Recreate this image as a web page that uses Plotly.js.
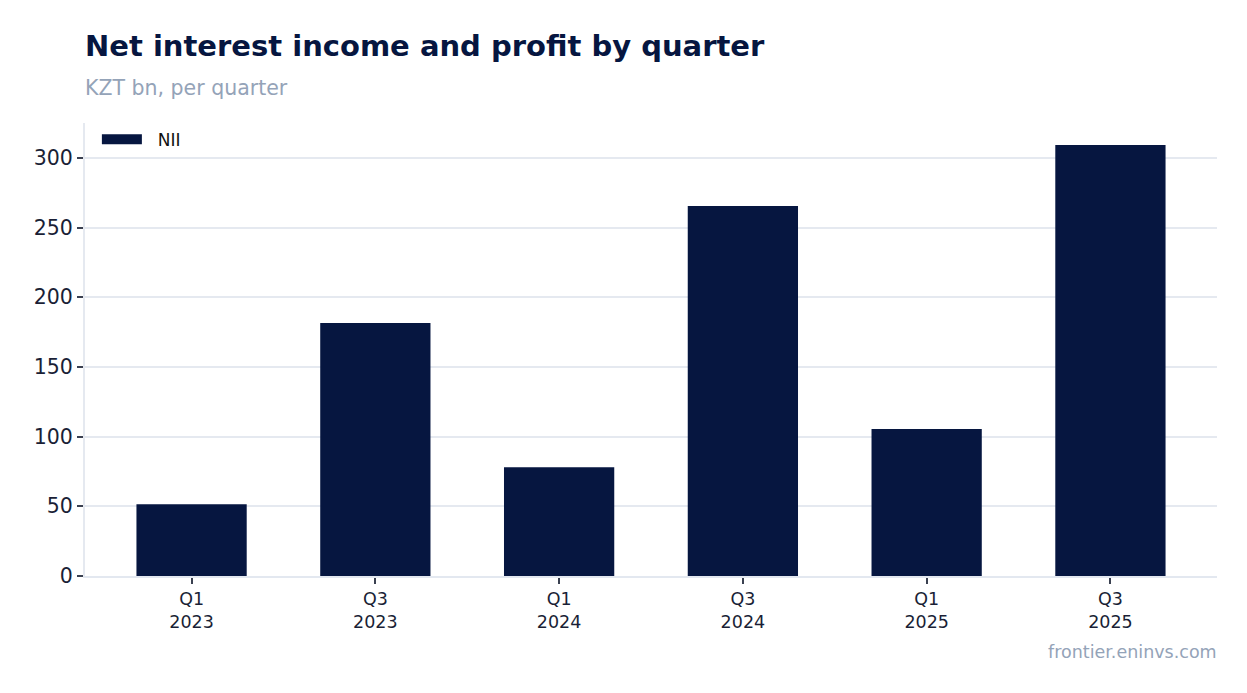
<!DOCTYPE html>
<html>
<head>
<meta charset="utf-8">
<script src="https://cdn.plot.ly/plotly-3.0.1.min.js"></script>
<style>
  html, body { margin: 0; padding: 0; background: #fff; }
  #chart { width: 1247px; height: 693px; }
</style>
</head>
<body>
<div id="chart"></div>
<script>
// quarters shown on the x axis
const quarters = ["Q1<br>2023", "Q3<br>2023", "Q1<br>2024", "Q3<br>2024", "Q1<br>2025", "Q3<br>2025"];
// net interest income, KZT bn
const nii = [51.5, 181.5, 78, 265.5, 105.5, 309.3];

const NAVY = "#061640";
const FONT = "DejaVu Sans, sans-serif";

const data = [
    {
        type: "bar",
        name: "NII",
        x: quarters,
        y: nii,
        width: 0.6,
        marker: { color: NAVY, line: { width: 0 } },
        showlegend: false,
        legendgroup: "nii"
    },
    // legend entry only: wide swatch like the reference
    {
        type: "scatter",
        mode: "lines",
        name: "\u00a0\u00a0NII",
        x: [null],
        y: [null],
        line: { color: NAVY, width: 13 },
        showlegend: true,
        legendgroup: "nii",
        hoverinfo: "skip"
    }
];

const layout = {
    width: 1247,
    height: 693,
    margin: { l: 85, r: 30, t: 123, b: 117 },
    paper_bgcolor: "#ffffff",
    plot_bgcolor: "#ffffff",
    font: { family: FONT, color: "#1a1f36" },
    xaxis: {
        type: "category",
        range: [-0.58, 5.58],
        showgrid: false,
        showline: true,
        linecolor: "#e3e8f0",
        linewidth: 2,
        ticks: "outside",
        ticklen: 6,
        tickwidth: 2,
        tickcolor: "#3a4050",
        tickfont: { size: 17.5, color: "#1a1f36" },
        zeroline: false
    },
    yaxis: {
        range: [0, 325],
        tickvals: [0, 50, 100, 150, 200, 250, 300],
        showgrid: true,
        gridcolor: "#e5e9f0",
        gridwidth: 2,
        showline: true,
        linecolor: "#e5e9f0",
        linewidth: 2,
        ticks: "outside",
        ticklen: 6,
        tickwidth: 2,
        tickcolor: "#3a4050",
        tickfont: { size: 20.5, color: "#1a1f36" },
        zeroline: false
    },
    legend: {
        x: 0.0105, y: 1.003, xanchor: "left", yanchor: "top",
        bgcolor: "rgba(0,0,0,0)",
        itemwidth: 40,
        font: { size: 17, color: "#111" }
    },
    annotations: [
        {
            text: "<b>Net interest income and profit by quarter</b>",
            xref: "paper", yref: "paper", x: 0, y: 1, xanchor: "left", yanchor: "bottom",
            xshift: -2, yshift: 58,
            showarrow: false,
            font: { family: FONT, size: 29, color: NAVY }
        },
        {
            text: "KZT bn, per quarter",
            xref: "paper", yref: "paper", x: 0, y: 1, xanchor: "left", yanchor: "bottom",
            xshift: -2, yshift: 21,
            showarrow: false,
            font: { family: FONT, size: 20.5, color: "#94a3b8" }
        },
        {
            text: "frontier.eninvs.com",
            xref: "paper", yref: "paper", x: 1, y: 0, xanchor: "right", yanchor: "top",
            xshift: 2, yshift: -64,
            showarrow: false,
            font: { family: FONT, size: 17.5, color: "#94a3b8" }
        }
    ]
};

Plotly.newPlot("chart", data, layout, { displayModeBar: false, staticPlot: true });
</script>
</body>
</html>
